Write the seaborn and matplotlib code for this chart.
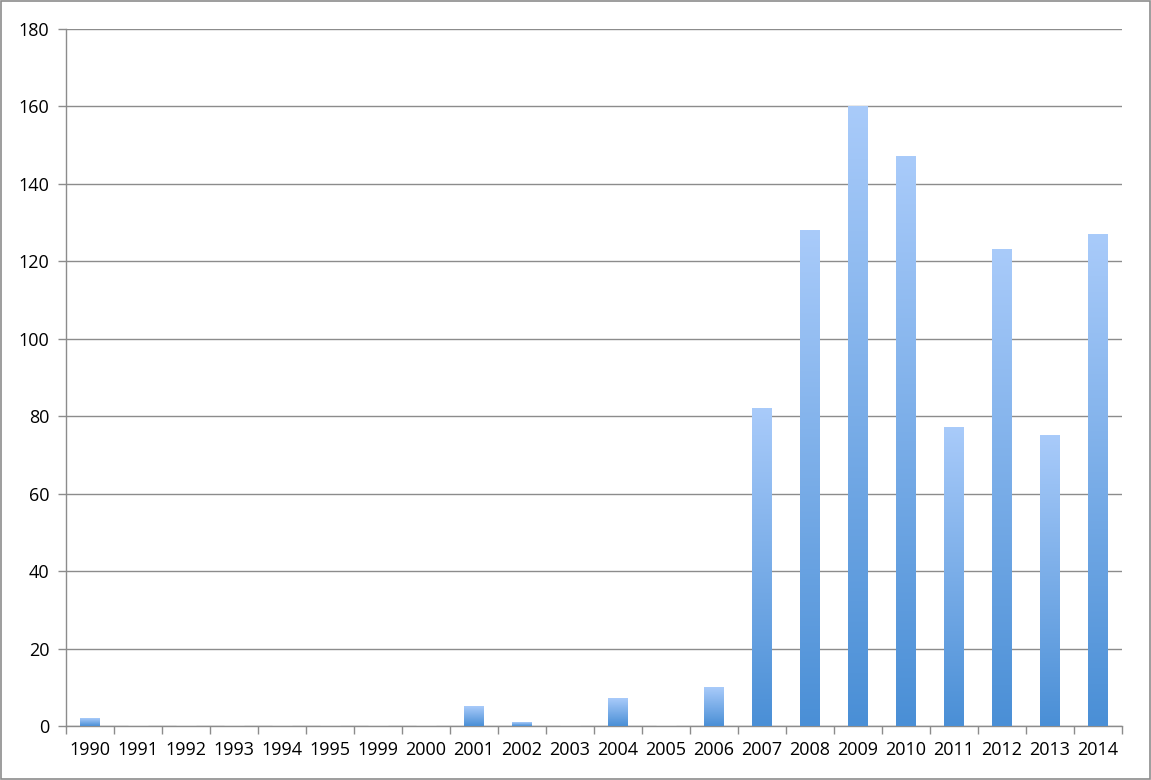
import numpy as np
import pandas as pd
import matplotlib
matplotlib.use("Agg")
import matplotlib.pyplot as plt
import seaborn as sns
from matplotlib.colors import LinearSegmentedColormap
from matplotlib.patches import Rectangle

years = ["1990", "1991", "1992", "1993", "1994", "1995", "1999", "2000", "2001", "2002", "2003",
         "2004", "2005", "2006", "2007", "2008", "2009", "2010", "2011", "2012", "2013", "2014"]
counts = [2, 0, 0, 0, 0, 0, 0, 0, 5, 1, 0, 7, 0, 10, 82, 128, 160, 147, 77, 123, 75, 127]
y_ticks = [0, 20, 40, 60, 80, 100, 120, 140, 160, 180]

df = pd.DataFrame({"year": years, "count": counts})

sns.set_style("white")
plt.rcParams['font.family'] = ['Open Sans', 'DejaVu Sans']
plt.rcParams['text.color'] = 'black'
plt.rcParams['xtick.labelcolor'] = 'black'
plt.rcParams['ytick.labelcolor'] = 'black'

fig = plt.figure(figsize=(11.51, 7.80), dpi=100)
ax = fig.add_axes([66/1151, 1-726/780, (1122-66)/1151, (726-29)/780])

sns.barplot(data=df, x="year", y="count", ax=ax, width=0.4, color="#6fa7e8", zorder=3)

cmap = LinearSegmentedColormap.from_list("g", ["#4a8fd6", "#a9cbfa"])
grad = np.linspace(0, 1, 256).reshape(-1, 1)
for p in ax.patches:
    x0, y0 = p.get_x(), p.get_y()
    w, h = p.get_width(), p.get_height()
    if h <= 0:
        continue
    p.set_facecolor("none")
    p.set_edgecolor("none")
    ax.imshow(grad, cmap=cmap, origin="lower", aspect="auto",
              extent=(x0, x0 + w, y0, y0 + h), zorder=3, interpolation="bilinear")

ax.set_xlim(-0.5, len(years) - 0.5)
ax.set_ylim(0, 180)
ax.set_yticks(y_ticks)
ax.set_yticklabels([str(t) for t in y_ticks], fontsize=13, color="black")
ax.set_xticks(range(len(years)))
ax.set_xticklabels(years, fontsize=13, color="black")
ax.tick_params(axis="x", length=0, pad=11)
ax.tick_params(axis="y", length=6, width=1, color="#8c8c8c", left=True, pad=6)
ax.set_xticks(np.arange(-0.5, len(years)), minor=True)
ax.tick_params(axis="x", which="minor", length=6, width=1, color="#8c8c8c", bottom=True, direction="out")

ax.set_xlabel("")
ax.set_ylabel("")
ax.yaxis.grid(True, color="#8c8c8c", linewidth=1)
ax.set_axisbelow(True)
for s in ["top", "right"]:
    ax.spines[s].set_visible(False)
for s in ["left", "bottom"]:
    ax.spines[s].set_color("#8c8c8c")
    ax.spines[s].set_linewidth(1)

fig.patches.append(Rectangle((0.001, 0.001), 0.998, 0.998, transform=fig.transFigure,
                             fill=False, edgecolor="#8c8c8c", linewidth=1.2))

fig.savefig("out.png", dpi=100)
